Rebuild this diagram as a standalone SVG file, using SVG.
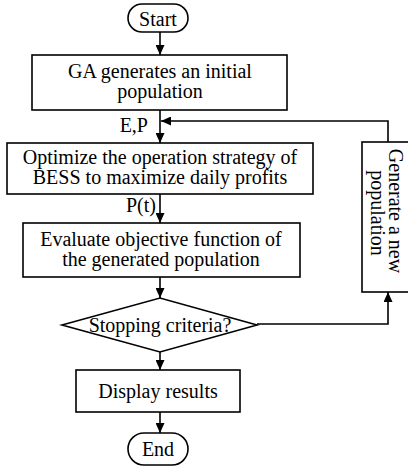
<svg xmlns="http://www.w3.org/2000/svg" width="408" height="468" viewBox="0 0 408 468">
<style>
.s{fill:#fff;stroke:#000;stroke-width:1.6}
text{font-family:'Liberation Serif','DejaVu Serif',serif;font-size:20px;fill:#000}
.t{text-anchor:middle}
.l{text-anchor:end}
.c{fill:none;stroke:#000;stroke-width:1.6}
</style>
<defs>
<marker id="a" markerUnits="userSpaceOnUse" markerWidth="10" markerHeight="9" refX="10" refY="4.5" orient="auto">
<path d="M0,0 L10,4.5 L0,9 z" fill="#000"/>
</marker>
</defs>
<rect width="408" height="468" fill="#fff"/>
<g id="connectors">
<path class="c" d="M160,32 V55" marker-end="url(#a)"/>
<path class="c" d="M160,110 V143" marker-end="url(#a)"/>
<path class="c" d="M388,142 V121 H161" marker-end="url(#a)"/>
<path class="c" d="M160,194 V223" marker-end="url(#a)"/>
<path class="c" d="M160,277 V298" marker-end="url(#a)"/>
<path class="c" d="M257,324 H388 V292" marker-end="url(#a)"/>
<path class="c" d="M160,352 V370" marker-end="url(#a)"/>
<path class="c" d="M160,412 V433" marker-end="url(#a)"/>
<text class="l" x="148" y="132" font-family="Liberation Serif, serif">E,P</text>
<text class="l" x="156" y="212" font-family="Liberation Serif, serif">P(t)</text>
</g>
<g id="start">
<rect class="s" x="128" y="4" width="60" height="28" rx="14"/>
<text class="t" x="158" y="26" font-family="Liberation Serif, serif">Start</text>
</g>
<g id="init">
<rect class="s" x="32" y="55" width="255" height="55"/>
<text class="t" x="160" y="78" font-family="Liberation Serif, serif">GA generates an initial</text>
<text class="t" x="160" y="98" font-family="Liberation Serif, serif">population</text>
</g>
<g id="optimize">
<rect class="s" x="7" y="143" width="306" height="51"/>
<text class="t" x="160" y="164" font-family="Liberation Serif, serif">Optimize the operation strategy of</text>
<text class="t" x="160" y="184" font-family="Liberation Serif, serif">BESS to maximize daily profits</text>
</g>
<g id="evaluate">
<rect class="s" x="23" y="223" width="277" height="54"/>
<text class="t" x="161" y="246" font-family="Liberation Serif, serif">Evaluate objective function of</text>
<text class="t" x="161" y="266" font-family="Liberation Serif, serif">the generated population</text>
</g>
<g id="stop">
<polygon class="s" points="62,325 160,298 257,325 160,352"/>
<text class="t" x="160" y="332" font-family="Liberation Serif, serif">Stopping criteria?</text>
</g>
<g id="generate">
<rect class="s" x="362" y="142" width="60" height="150"/>
<text class="t" transform="translate(389,211) rotate(90)" font-family="Liberation Serif, serif">Generate a new</text>
<text class="t" transform="translate(371,213) rotate(90)" font-family="Liberation Serif, serif">population</text>
</g>
<g id="display">
<rect class="s" x="76" y="370" width="164" height="42"/>
<text class="t" x="158" y="398" font-family="Liberation Serif, serif">Display results</text>
</g>
<g id="end">
<rect class="s" x="128" y="433" width="60" height="32" rx="16"/>
<text class="t" x="158" y="456" font-family="Liberation Serif, serif">End</text>
</g>
</svg>
